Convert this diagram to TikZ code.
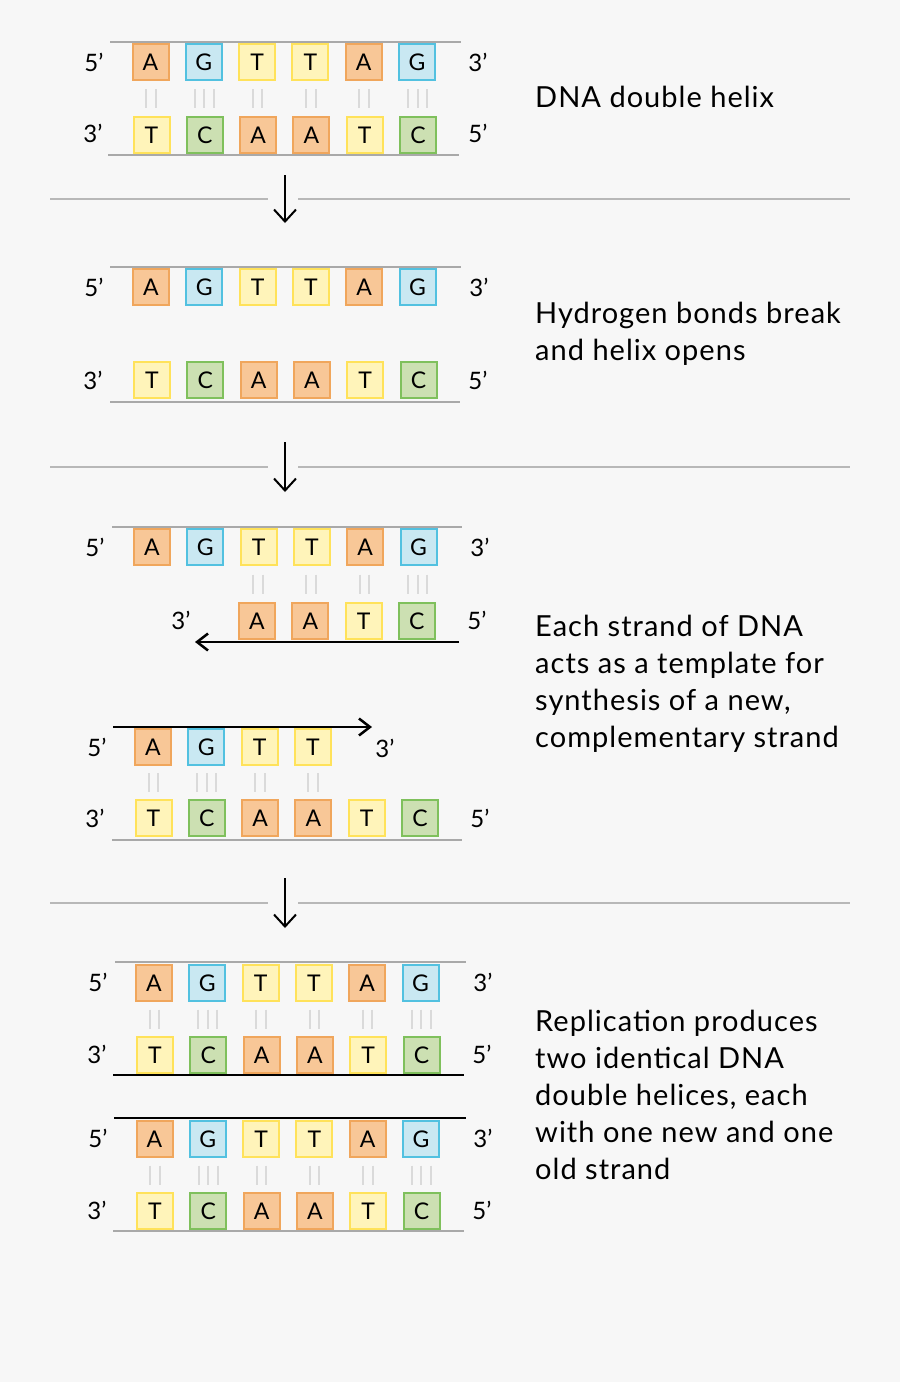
\documentclass[tikz,border=0pt]{standalone}
\usepackage{fontspec}
\setmainfont{Lato}
\newfontfamily\labfont[LetterSpace=3.5]{Lato}
\usetikzlibrary{calc,arrows.meta}
\definecolor{bg}{HTML}{F7F7F7}
\definecolor{Afill}{HTML}{F8C797}
\definecolor{Aline}{HTML}{F0A65C}
\definecolor{Gfill}{HTML}{C9E8F2}
\definecolor{Gline}{HTML}{52C1E0}
\definecolor{Tfill}{HTML}{FFF4BA}
\definecolor{Tline}{HTML}{FFE25A}
\definecolor{Cfill}{HTML}{CCE0B2}
\definecolor{Cline}{HTML}{7FC05C}
\definecolor{oldgray}{HTML}{A9A9A9}
\definecolor{bondgray}{HTML}{DADADA}
\definecolor{sepgray}{HTML}{B8B8B8}
\tikzset{
  nt/.style={draw=#1line, fill=#1fill, line width=2pt, minimum size=36pt,
    inner sep=0pt, font=\fontsize{23}{23}\selectfont},
  old/.style={draw=oldgray, line width=2.5pt},
  new/.style={draw=black, line width=2.5pt},
  newgrowing/.style={new, -{Straight Barb[length=11pt,width=17pt]}},
  bond/.style={draw=bondgray, line width=2pt},
  sep/.style={draw=sepgray, line width=2pt},
  flow/.style={draw=black, line width=2pt, -{Straight Barb[length=12pt,width=22pt]}},
  prime/.style={font=\fontsize{24}{24}\selectfont},
  lab/.style={anchor=base west, inner sep=0pt, font=\labfont\fontsize{29}{37}\selectfont},
}
% one row of bases: prefix, first x, y, letters
\newcommand{\baserow}[4]{%
  \foreach \b [count=\i] in {#4}
    \node[nt=\b] (#1\i) at ({#2+(\i-1)*53.3},#3) {\b};}
% hydrogen bonds between two bases: top node, bottom node, number of lines
\newcommand{\hbond}[3]{%
  \coordinate (mid) at ($(#1.south)!0.5!(#2.north)$);
  \foreach \k in {1,...,#3}
    \draw[bond] ($(mid)+({(\k-(#3+1)/2)*9.5},-9.5)$) -- ++(0,19);}
\newcommand{\txt}[1]{\begin{tabular}[t]{@{}l@{}}#1\end{tabular}}

\begin{document}
\begin{tikzpicture}[x=1pt,y=-1pt]
  \fill[bg] (0,0) rectangle (900,1382);
  \useasboundingbox (0,0) rectangle (900,1382);

  % double helix
  \draw[old] (110,42) -- (461,42);
  \draw[old] (108,155) -- (459,155);
  \baserow{a}{150.5}{62}{A,G,T,T,A,G}
  \baserow{b}{151.5}{135}{T,C,A,A,T,C}
  \foreach \j/\n in {1/2,2/3,3/2,4/2,5/2,6/3} {\hbond{a\j}{b\j}{\n}}
  \node[prime] at (94,62) {5’};  \node[prime] at (478,62) {3’};
  \node[prime] at (93,133) {3’}; \node[prime] at (478,133) {5’};
  \node[lab] at (535,107) {DNA double helix};

  \draw[sep] (50,199) -- (268,199); \draw[sep] (298,199) -- (850,199);
  \draw[flow] (285,175) -- (285,223);

  % helix opens
  \draw[old] (110,267) -- (461,267);
  \draw[old] (110,402) -- (460,402);
  \baserow{c}{151}{287}{A,G,T,T,A,G}
  \baserow{d}{152}{380}{T,C,A,A,T,C}
  \node[prime] at (94,287) {5’};  \node[prime] at (479,287) {3’};
  \node[prime] at (93,380) {3’}; \node[prime] at (478,380) {5’};
  \node[lab] at (535,323) {\txt{Hydrogen bonds break\\and helix opens}};

  \draw[sep] (50,467) -- (268,467); \draw[sep] (298,467) -- (850,467);
  \draw[flow] (285,442) -- (285,492);

  % templates
  \draw[old] (112,527) -- (462,527);
  \baserow{e}{152}{547}{A,G,T,T,A,G}
  \baserow{f}{257}{621}{A,A,T,C}
  \draw[newgrowing] (459,642) -- (195,642);
  \foreach \j/\k/\n in {3/1/2,4/2/2,5/3/2,6/4/3} {\hbond{e\j}{f\k}{\n}}
  \node[prime] at (95,547) {5’};  \node[prime] at (480,547) {3’};
  \node[prime] at (181,620) {3’}; \node[prime] at (477,620) {5’};

  \draw[newgrowing] (113,727) -- (372,727);
  \baserow{g}{153}{747}{A,G,T,T}
  \baserow{h}{153.5}{818}{T,C,A,A,T,C}
  \draw[old] (112,840) -- (462,840);
  \foreach \j/\n in {1/2,2/3,3/2,4/2} {\hbond{g\j}{h\j}{\n}}
  \node[prime] at (97,747) {5’};  \node[prime] at (385,748) {3’};
  \node[prime] at (95,818) {3’}; \node[prime] at (480,818) {5’};
  \node[lab] at (535,636) {\txt{Each strand of DNA\\acts as a template for\\synthesis of a new,\\complementary strand}};

  \draw[sep] (50,903) -- (268,903); \draw[sep] (298,903) -- (850,903);
  \draw[flow] (285,878) -- (285,928);

  % two daughter helices
  \draw[old] (115,962) -- (466,962);
  \draw[new] (113,1075) -- (464,1075);
  \baserow{p}{154}{983}{A,G,T,T,A,G}
  \baserow{q}{155}{1055}{T,C,A,A,T,C}
  \foreach \j/\n in {1/2,2/3,3/2,4/2,5/2,6/3} {\hbond{p\j}{q\j}{\n}}
  \node[prime] at (98,982) {5’};  \node[prime] at (483,982) {3’};
  \node[prime] at (97,1054) {3’}; \node[prime] at (482,1054) {5’};

  \draw[new] (114,1118) -- (466,1118);
  \draw[old] (113,1231) -- (464,1231);
  \baserow{r}{154.5}{1139}{A,G,T,T,A,G}
  \baserow{s}{155}{1211}{T,C,A,A,T,C}
  \foreach \j/\n in {1/2,2/3,3/2,4/2,5/2,6/3} {\hbond{r\j}{s\j}{\n}}
  \node[prime] at (98,1138) {5’};  \node[prime] at (483,1138) {3’};
  \node[prime] at (97,1210) {3’}; \node[prime] at (482,1210) {5’};
  \node[lab] at (535,1031) {\txt{Replication produces\\two identical DNA\\double helices, each\\with one new and one\\old strand}};
\end{tikzpicture}
\end{document}
